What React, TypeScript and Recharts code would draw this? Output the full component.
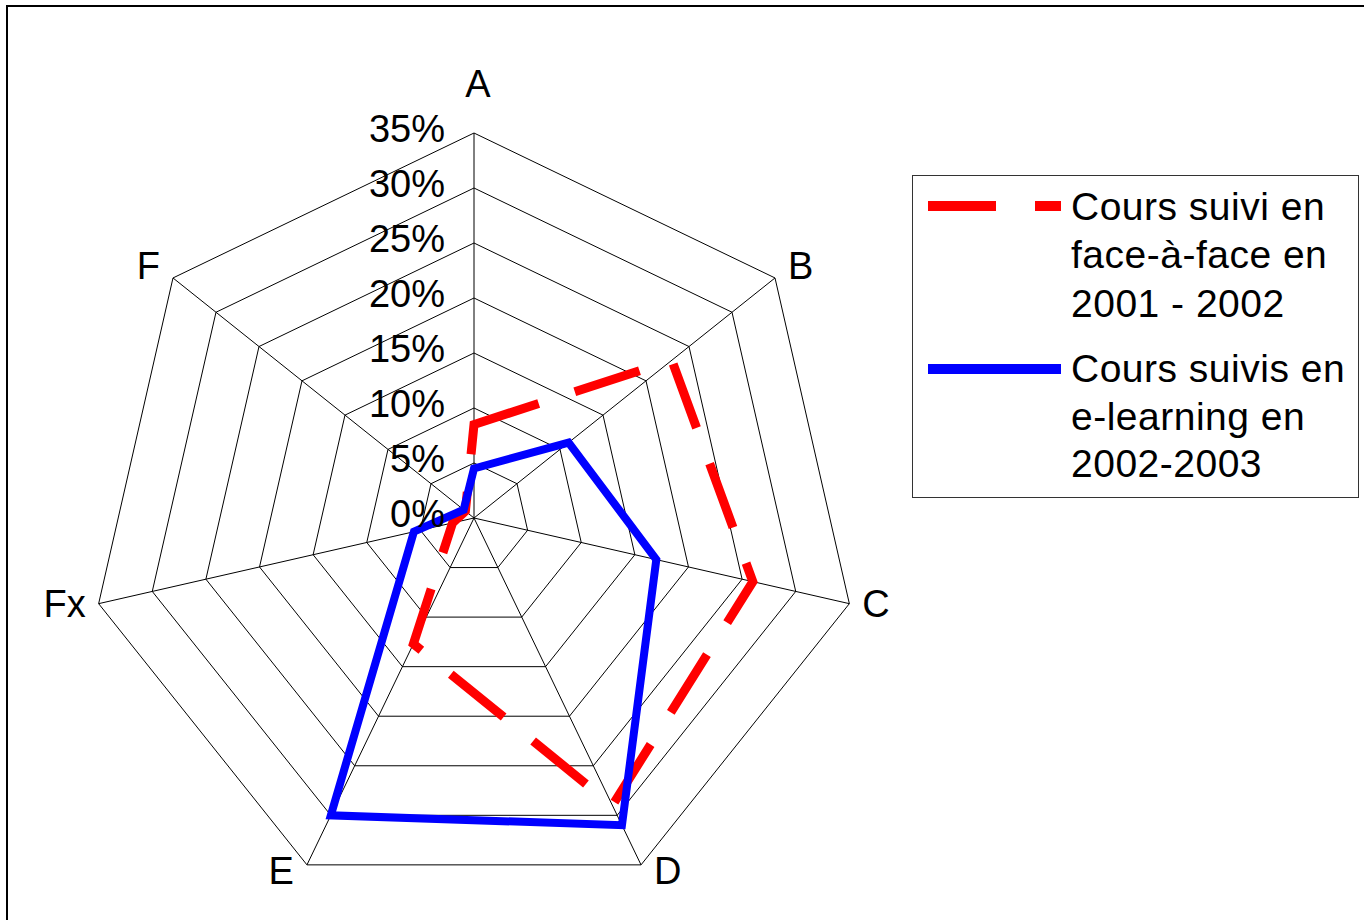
import { RadarChart, PolarGrid, PolarAngleAxis, PolarRadiusAxis, Radar, Legend } from 'recharts';

const categories = ['A', 'B', 'C', 'D', 'E', 'Fx', 'F'];
const faceAFace = [8.5, 23, 26, 29, 12.7, 2, 1];
const eLearning = [4.5, 11, 17, 31, 30, 5.6, 1.2];

const CX = 474;
const CY = 518;
const R = 385;
const FONT = '"Liberation Sans", Arial, sans-serif';

const data = categories.map((cat, i) => ({ cat, face: faceAFace[i], elearn: eLearning[i] }));

function AngleTick(props: any) {
  const { payload } = props;
  const i = categories.indexOf(payload.value);
  const ang = ((90 - (i * 360) / categories.length) * Math.PI) / 180;
  const dx = Math.cos(ang);
  const dy = -Math.sin(ang);
  const vx = CX + R * dx;
  const vy = CY + R * dy;
  let anchor = 'middle';
  let x = vx + 4;
  if (dx > 0.3) {
    anchor = 'start';
    x = vx + 13;
  } else if (dx < -0.3) {
    anchor = 'end';
    x = vx - 13;
  }
  const y = vy + 12 + (dy < -0.9 ? -48 : dy < 0 ? -11 : dy * 8);
  return (
    <text x={x} y={y} textAnchor={anchor} fontSize={38} fontFamily={FONT} fill="#000">
      {payload.value}
    </text>
  );
}

function RadiusTick(props: any) {
  const { x, y, payload } = props;
  return (
    <text x={x - 29} y={y + 9} textAnchor="end" fontSize={38} fontFamily={FONT} fill="#000">
      {payload.value}%
    </text>
  );
}

function LegendBox() {
  const txt = { fontSize: 39, fontFamily: FONT, fill: '#000', letterSpacing: 0.5 };
  return (
    <svg width={447} height={323} style={{ display: 'block' }}>
      <rect x={0.5} y={0.5} width={446} height={322} fill="#fff" stroke="#333" strokeWidth={1} />
      <line x1={16} y1={31} x2={149} y2={31} stroke="#ff0000" strokeWidth={10} strokeDasharray="68 39" />
      <text x={159} y={45} {...txt}>Cours suivi en</text>
      <text x={159} y={93} {...txt}>face-à-face en</text>
      <text x={159} y={142} {...txt}>2001 - 2002</text>
      <line x1={16} y1={194} x2={149} y2={194} stroke="#0000ff" strokeWidth={10} />
      <text x={159} y={207} {...txt}>Cours suivis en</text>
      <text x={159} y={255} {...txt}>e-learning en</text>
      <text x={159} y={302} {...txt}>2002-2003</text>
    </svg>
  );
}

export default function App() {
  return (
    <div style={{ position: 'absolute', left: 0, top: 0, width: 1364, height: 920, overflow: 'hidden', background: '#fff' }}>
      <div
        style={{ position: 'absolute', left: 6, top: 5, width: 1400, height: 1000, border: '2px solid #000', boxSizing: 'border-box' }}
      />
      <div style={{ position: 'absolute', left: 0, top: 0 }}>
        <RadarChart
          width={1364}
          height={920}
          data={data}
          cx={CX}
          cy={CY}
          outerRadius={R}
          startAngle={90}
          endAngle={-270}
          margin={{ top: 0, right: 0, bottom: 0, left: 0 }}
        >
          <PolarGrid gridType="polygon" stroke="#000" strokeWidth={1} />
          <PolarAngleAxis dataKey="cat" tick={<AngleTick />} tickLine={false} axisLine={false} />
          <PolarRadiusAxis
            angle={90}
            domain={[0, 35]}
            tickCount={8}
            tick={<RadiusTick />}
            tickLine={false}
            axisLine={false}
          />
          <Radar
            dataKey="face"
            stroke="#ff0000"
            strokeWidth={9}
            strokeDasharray="68 38"
            strokeLinejoin="miter"
            fill="none"
            fillOpacity={0}
            dot={false}
            isAnimationActive={false}
          />
          <Radar
            dataKey="elearn"
            stroke="#0000ff"
            strokeWidth={8}
            strokeLinejoin="miter"
            fill="none"
            fillOpacity={0}
            dot={false}
            isAnimationActive={false}
          />
          <Legend
            layout="vertical"
            align="right"
            verticalAlign="top"
            wrapperStyle={{ position: 'absolute', left: 912, top: 175, right: 'auto', bottom: 'auto', width: 447, height: 323 }}
            content={() => <LegendBox />}
          />
        </RadarChart>
      </div>
    </div>
  );
}
